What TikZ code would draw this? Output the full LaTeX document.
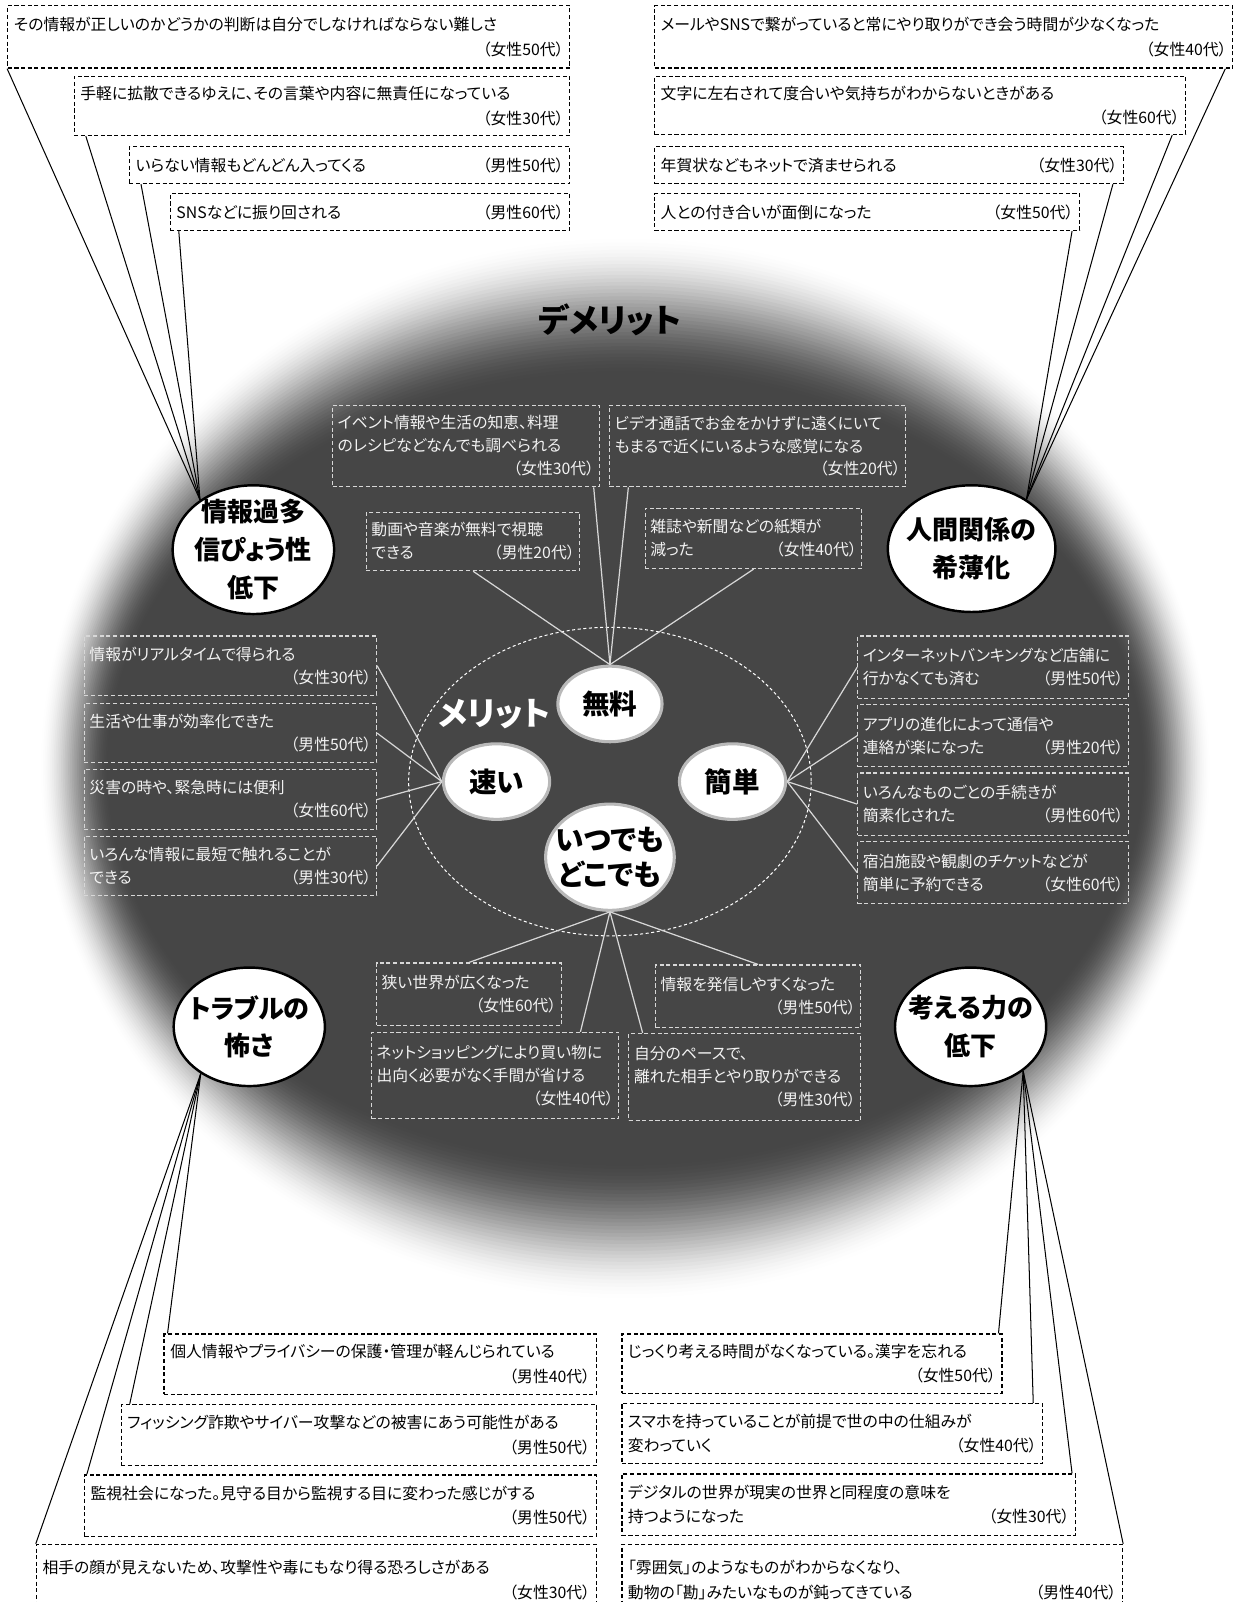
\documentclass[tikz,border=0pt]{standalone}
\usepackage{fontspec}
\setmainfont{Noto Sans CJK JP}[RawFeature={+palt}]
\usetikzlibrary{shapes.geometric, positioning, calc}
\definecolor{blobdark}{RGB}{70,70,70}
\definecolor{meritline}{RGB}{215,215,215}
\newcommand{\who}[1]{\hspace*{\fill}（#1）}

\begin{document}
\begin{tikzpicture}[x=1pt, y=-1pt,
  voice/.style={draw, dash pattern=on 4pt off 2.5pt, line width=1.3pt, fill=white, anchor=north west,
    align=left, inner xsep=6pt, inner ysep=0pt, font=\fontsize{15.5}{24}\selectfont},
  merit/.style={draw=meritline, dash pattern=on 4pt off 2.5pt, line width=1.1pt, text=white!95!black,
    anchor=north west, align=left, inner xsep=5pt, inner ysep=0pt, font=\fontsize{15.5}{22.5}\selectfont},
  topic/.style={ellipse, draw, line width=2.4pt, fill=white, inner sep=0pt},
  pill/.style={ellipse, draw=gray!55, line width=3pt, fill=white, inner sep=0pt,
    font=\bfseries\fontsize{27}{34}\selectfont},
  topictext/.style={font=\bfseries\fontsize{25.5}{37}\selectfont, align=center},
  voiceline/.style={line width=1pt},
  meritlink/.style={draw=meritline, line width=1.2pt}]
\useasboundingbox (0,0) rectangle (1216,1568);

\foreach \i in {0,...,40}{
  \pgfmathsetmacro\t{\i/40}
  \pgfmathsetmacro\p{100*(3*\t*\t-2*\t*\t*\t)}
  \fill[blobdark!\p!white] (612,752) ellipse [x radius={575-70*\t}, y radius={525-140*\t}];
}
\draw[white, line width=1pt, dash pattern=on 3pt off 2.5pt] (597,765) ellipse [x radius=197, y radius=151];

\node[font=\bfseries\fontsize{32}{32}\selectfont] (demerit) at (597,313) {デメリット};
\node[font=\bfseries\fontsize{32}{32}\selectfont, text=white] (merittitle) at (484,699) {メリット};

\node[topic, minimum width=158pt, minimum height=126pt] (info) at (248,538) {};
\node[topictext] at (info) {情報過多\\信ぴょう性\\低下};
\node[topic, minimum width=164pt, minimum height=124pt] (human) at (951,537) {};
\node[topictext] at (human) {人間関係の\\希薄化};
\node[topic, minimum width=148pt, minimum height=116pt] (trouble) at (244,1005) {};
\node[topictext] at (trouble) {トラブルの\\怖さ};
\node[topic, minimum width=148pt, minimum height=116pt] (think) at (950,1005) {};
\node[topictext] at (think) {考える力の\\低下};

\node[pill, minimum width=102pt, minimum height=74pt] (muryo) at (597,689) {無料};
\node[pill, minimum width=104pt, minimum height=74pt] (hayai) at (486,765) {速い};
\node[pill, minimum width=104pt, minimum height=74pt] (kantan) at (717,765) {簡単};
\node[pill, minimum width=126pt, minimum height=104pt] (itsudemo) at (597,839) {};
\node[topictext, font=\bfseries\fontsize{28}{35}\selectfont] at (itsudemo) {いつでも\\どこでも};

\node[voice, text width=538pt, minimum height=61pt] (a1) at (7,5) {その情報が正しいのかどうかの判断は自分でしなければならない難しさ\\\who{女性50代}};
\node[voice, text width=473pt, minimum height=58pt] (a2) at (72,74) {手軽に拡散できるゆえに、その言葉や内容に無責任になっている\\\who{女性30代}};
\node[voice, text width=419pt, minimum height=36pt] (a3) at (126,143) {いらない情報もどんどん入ってくる\who{男性50代}};
\node[voice, text width=379pt, minimum height=36pt] (a4) at (166,189) {SNSなどに振り回される\who{男性60代}};

\node[voice, text width=554pt, minimum height=61pt] (c1) at (640,5) {メールやSNSで繋がっていると常にやり取りができ会う時間が少なくなった\\\who{女性40代}};
\node[voice, text width=508pt, minimum height=57pt] (c2) at (640,74) {文字に左右されて度合いや気持ちがわからないときがある\\\who{女性60代}};
\node[voice, text width=447pt, minimum height=36pt] (c3) at (640,143) {年賀状などもネットで済ませられる\who{女性30代}};
\node[voice, text width=404pt, minimum height=36pt] (c4) at (640,189) {人との付き合いが面倒になった\who{女性50代}};

\node[merit, text width=251pt, minimum height=80pt] (m1) at (325,396) {イベント情報や生活の知恵、料理\\のレシピなどなんでも調べられる\\\who{女性30代}};
\node[merit, text width=280pt, minimum height=80pt] (m2) at (596,396) {ビデオ通話でお金をかけずに遠くにいて\\もまるで近くにいるような感覚になる\\\who{女性20代}};
\node[merit, text width=199pt, minimum height=57pt] (m3) at (358,501) {動画や音楽が無料で視聴\\できる\who{男性20代}};
\node[merit, text width=202pt, minimum height=59pt] (m4) at (631,497) {雑誌や新聞などの紙類が\\減った\who{女性40代}};

\node[merit, text width=276pt, minimum height=58pt] (l1) at (82,622) {情報がリアルタイムで得られる\\\who{女性30代}};
\node[merit, text width=276pt, minimum height=58pt] (l2) at (82,688) {生活や仕事が効率化できた\\\who{男性50代}};
\node[merit, text width=276pt, minimum height=58pt] (l3) at (82,753) {災害の時や、緊急時には便利\\\who{女性60代}};
\node[merit, text width=276pt, minimum height=58pt] (l4) at (82,818) {いろんな情報に最短で触れることが\\できる\who{男性30代}};

\node[merit, text width=255pt, minimum height=61pt] (r1) at (839,622) {インターネットバンキングなど店舗に\\行かなくても済む\who{男性50代}};
\node[merit, text width=255pt, minimum height=61pt] (r2) at (839,689) {アプリの進化によって通信や\\連絡が楽になった\who{男性20代}};
\node[merit, text width=255pt, minimum height=61pt] (r3) at (839,756) {いろんなものごとの手続きが\\簡素化された\who{男性60代}};
\node[merit, text width=255pt, minimum height=61pt] (r4) at (839,823) {宿泊施設や観劇のチケットなどが\\簡単に予約できる\who{女性60代}};

\node[merit, text width=171pt, minimum height=61pt] (b1) at (368,942) {狭い世界が広くなった\\\who{女性60代}};
\node[merit, text width=232pt, minimum height=84pt] (b2) at (363,1010) {ネットショッピングにより買い物に\\出向く必要がなく手間が省ける\\\who{女性40代}};
\node[merit, text width=191pt, minimum height=61pt] (b3) at (641,944) {情報を発信しやすくなった\\\who{男性50代}};
\node[merit, text width=217pt, minimum height=85pt] (b4) at (615,1011) {自分のペースで、\\離れた相手とやり取りができる\\\who{男性30代}};

\node[voice, text width=411pt, minimum height=59pt] (d1) at (160,1305) {個人情報やプライバシーの保護・管理が軽んじられている\\\who{男性40代}};
\node[voice, text width=453pt, minimum height=60pt] (d2) at (118,1374) {フィッシング詐欺やサイバー攻撃などの被害にあう可能性がある\\\who{男性50代}};
\node[voice, text width=489pt, minimum height=60pt] (d3) at (82,1443) {監視社会になった。見守る目から監視する目に変わった感じがする\\\who{男性50代}};
\node[voice, text width=536pt, minimum height=70pt] (d4) at (35,1511) {相手の顔が見えないため、攻撃性や毒にもなり得る恐ろしさがある\\\who{女性30代}};

\node[voice, text width=360pt, minimum height=58pt] (e1) at (608,1305) {じっくり考える時間がなくなっている。漢字を忘れる\\\who{女性50代}};
\node[voice, text width=400pt, minimum height=59pt] (e2) at (608,1373) {スマホを持っていることが前提で世の中の仕組みが\\変わっていく\who{女性40代}};
\node[voice, text width=432pt, minimum height=60pt] (e3) at (608,1442) {デジタルの世界が現実の世界と同程度の意味を\\持つようになった\who{女性30代}};
\node[voice, text width=478pt, minimum height=70pt] (e4) at (608,1511) {「雰囲気」のようなものがわからなくなり、\\動物の「勘」みたいなものが鈍ってきている\who{男性40代}};

\path[voiceline]
(a1.south west) edge (info.137)
([xshift=12pt]a2.south west) edge (info.137)
([xshift=12pt]a3.south west) edge (info.137)
([xshift=9pt]a4.south west) edge (info.137)
([xshift=-8pt]c1.south east) edge (human.42)
([xshift=-14pt]c2.south east) edge (human.42)
([xshift=-11pt]c3.south east) edge (human.42)
([xshift=-8pt]c4.south east) edge (human.42)
(trouble.224) edge ([xshift=4pt]d1.north west)
(trouble.224) edge ([xshift=9pt]d2.north west)
(trouble.224) edge ([xshift=3pt]d3.north west)
(trouble.224) edge (d4.north west)
(think.-40) edge ([xshift=-4pt]e1.north east)
(think.-40) edge ([xshift=-10pt]e2.north east)
(think.-40) edge ([xshift=-4pt]e3.north east)
(think.-40) edge (e4.north east);

\path[meritlink]
([xshift=-6pt]m1.south east) edge (muryo.north)
([xshift=19pt]m2.south west) edge (muryo.north)
(m3.south) edge (muryo.north)
(m4.south) edge (muryo.north)
(l1.east) edge (hayai.west)
(l2.east) edge (hayai.west)
(l3.east) edge (hayai.west)
(l4.east) edge (hayai.west)
(kantan.east) edge (r1.west)
(kantan.east) edge (r2.west)
(kantan.east) edge (r3.west)
(kantan.east) edge (r4.west)
(itsudemo.south) edge (b1.north)
(itsudemo.south) edge ([xshift=-38pt]b2.north east)
(itsudemo.south) edge (b3.north)
(itsudemo.south) edge ([xshift=14pt]b4.north west);
\end{tikzpicture}
\end{document}
